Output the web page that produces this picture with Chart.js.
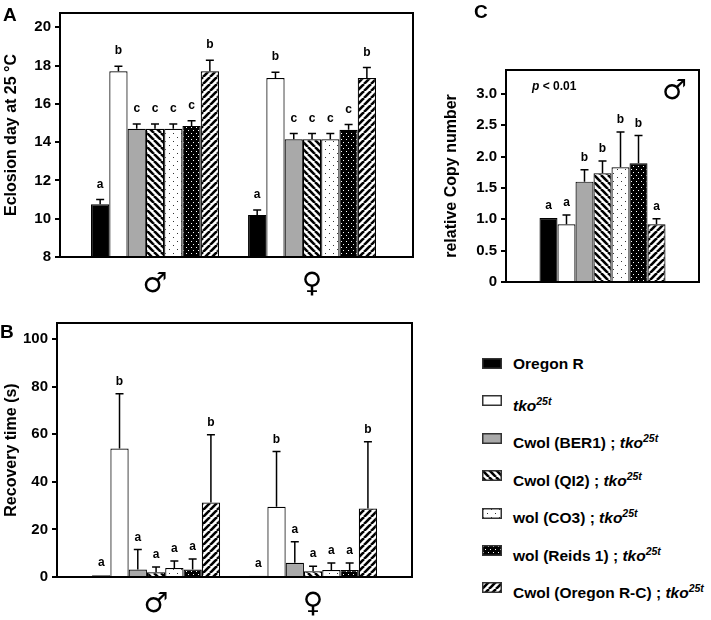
<!DOCTYPE html>
<html>
<head>
<meta charset="utf-8">
<script src="https://cdn.jsdelivr.net/npm/chart.js@4.4.0/dist/chart.umd.min.js"></script>
<style>
  body { margin: 0; background: #fff; font-family: "Liberation Sans", Arial, sans-serif; }
  #fig { position: relative; width: 711px; height: 620px; overflow: hidden; }
  #fig canvas { position: absolute; }
  .panel { position: absolute; font-weight: bold; font-size: 19px; line-height: 1; }
  .leg { position: absolute; left: 513px; font-weight: bold; font-size: 15.5px; line-height: 18px; white-space: nowrap; }
  .leg sup { font-size: 10.5px; }
  .sw { position: absolute; left: 482px; }
</style>
</head>
<body>
<div id="fig">
  <canvas id="chartA" width="440" height="300" style="left:0;top:0"></canvas>
  <canvas id="chartB" width="440" height="320" style="left:0;top:300px"></canvas>
  <canvas id="chartC" width="271" height="300" style="left:440px;top:0"></canvas>
  <div class="panel" style="left:3px;top:5px">A</div>
  <div class="panel" style="left:0;top:322px">B</div>
  <div class="panel" style="left:474px;top:2px">C</div>
  <div style="position:absolute;left:532px;top:80px;font-weight:bold;font-size:12px;line-height:1"><i>p</i> &lt; 0.01</div>
  <div style="position:absolute;left:662px;top:76px;font-family:'DejaVu Sans';font-size:28px;line-height:1">♂</div>
</div>
<script>
// ======= DADOS =======
const strains = [
  "Oregon R",
  "tko25t",
  "Cwol (BER1) ; tko25t",
  "Cwol (QI2) ; tko25t",
  "wol (CO3) ; tko25t",
  "wol (Reids 1) ; tko25t",
  "Cwol (Oregon R-C) ; tko25t",
];
const fills = ["black", "white", "grey", "back", "dots", "dark", "fwd"];
const sexes = ["♂", "♀"];
const groupX = [0, 1];

// A - eclosion day
const eclosionMale = [10.75, 17.7, 14.7, 14.7, 14.7, 14.85, 17.7];
const eclosionMaleErr = [0.25, 0.27, 0.25, 0.25, 0.25, 0.27, 0.58];
const eclosionFemale = [10.2, 17.35, 14.15, 14.15, 14.15, 14.65, 17.35];
const eclosionFemaleErr = [0.25, 0.3, 0.3, 0.3, 0.3, 0.27, 0.55];
const lettersA = ["a", "b", "c", "c", "c", "c", "b"];
const ticksA = [8, 10, 12, 14, 16, 18, 20];

// B - recovery time
const recoveryMale = [0.7, 54, 3.1, 2.0, 3.8, 3.1, 31.3];
const recoveryMaleErr = [0, 23, 8.4, 2.2, 2.9, 4.5, 28.5];
const recoveryFemale = [0.5, 29.5, 6.0, 2.4, 2.9, 2.9, 28.8];
const recoveryFemaleErr = [0, 23.2, 8.8, 2.1, 3.0, 3.0, 28];
const lettersB = ["a", "b", "a", "a", "a", "a", "b"];
const ticksB = [0, 20, 40, 60, 80, 100];

// C - relative copy number (males)
const copyMale = [1.02, 0.92, 1.6, 1.735, 1.83, 1.895, 0.92];
const copyMaleErr = [0, 0.15, 0.19, 0.195, 0.56, 0.44, 0.09];
const lettersC = ["a", "a", "b", "b", "b", "b", "a"];
const ticksC = [0, 0.5, 1.0, 1.5, 2.0, 2.5, 3.0];

Chart.defaults.font.family = '"Liberation Sans", Arial, sans-serif';
Chart.defaults.color = "#000";

// ======= PADROES =======
function makeFill(kind) {
  if (kind === "black") return "#000";
  if (kind === "white") return "#fff";
  if (kind === "grey") return "#a9a9a9";
  const c = document.createElement("canvas");
  const g = c.getContext("2d");
  if (kind === "back" || kind === "fwd") {
    const s = 7;
    c.width = c.height = s;
    g.fillStyle = "#fff";
    g.fillRect(0, 0, s, s);
    g.strokeStyle = "#000";
    g.lineWidth = 2.6;
    for (let k = -1; k <= 1; k++) {
      g.beginPath();
      if (kind === "back") { g.moveTo(k * s, 0); g.lineTo(k * s + s, s); }
      else { g.moveTo(k * s, s); g.lineTo(k * s + s, 0); }
      g.stroke();
    }
  } else if (kind === "dots") {
    c.width = 8; c.height = 8;
    g.fillStyle = "#fff";
    g.fillRect(0, 0, 8, 8);
    g.fillStyle = "#333";
    g.fillRect(1, 1, 1, 1);
    g.fillRect(5, 5, 1, 1);
  } else if (kind === "dark") {
    c.width = 5; c.height = 6;
    g.fillStyle = "#000";
    g.fillRect(0, 0, 5, 6);
    g.fillStyle = "#fff";
    g.fillRect(1, 1, 1, 1);
    g.fillRect(3, 4, 1, 1);
  }
  return g.createPattern(c, "repeat");
}
const patterns = fills.map(makeFill);

// ======= PLUGINS =======
const errorBars = {
  id: "errorBars",
  afterDatasetsDraw(chart, args, opts) {
    const ctx = chart.ctx;
    const y = chart.scales.y;
    ctx.save();
    ctx.font = 'bold 12px "Liberation Sans", Arial, sans-serif';
    ctx.textAlign = "center";
    ctx.textBaseline = "alphabetic";
    ctx.fillStyle = "#000";
    chart.data.datasets.forEach((ds, i) => {
      chart.getDatasetMeta(i).data.forEach((bar, j) => {
        const v = ds.values[j];
        const e = ds.errors[j];
        const top = y.getPixelForValue(v + e);
        if (e > 0) {
          ctx.strokeStyle = "#000";
          ctx.lineWidth = 1.5;
          ctx.beginPath();
          ctx.moveTo(bar.x, y.getPixelForValue(v));
          ctx.lineTo(bar.x, top);
          ctx.moveTo(bar.x - 4, top);
          ctx.lineTo(bar.x + 4, top);
          ctx.stroke();
        }
        ctx.fillText(ds.letters[j], bar.x, top - opts.gap);
      });
    });
    ctx.restore();
  },
};

const frame = {
  id: "frame",
  afterDraw(chart) {
    const { ctx, chartArea: a } = chart;
    ctx.save();
    ctx.strokeStyle = "#000";
    ctx.lineWidth = 2;
    ctx.strokeRect(a.left, a.top, a.right - a.left, a.bottom - a.top);
    ctx.restore();
  },
};

function yAxis(min, max, ticks, title, width, fmt) {
  return {
    min: min,
    max: max,
    afterBuildTicks: (s) => { s.ticks = ticks.map((v) => ({ value: v })); },
    afterFit: (s) => { s.width = width; },
    ticks: {
      font: { size: 15, weight: "bold" },
      color: "#000",
      padding: 4,
      callback: fmt || ((v) => v),
    },
    grid: { drawOnChartArea: false, color: "#000", lineWidth: 2, tickLength: 5 },
    border: { color: "#000", width: 2 },
    title: {
      display: true,
      text: title,
      font: { size: 16, weight: "bold" },
      color: "#000",
      padding: { top: 2, bottom: 0 },
    },
  };
}

function sexChart(id, male, maleErr, female, femaleErr, letters, yOpts, xRange, pad, gap) {
  const datasets = strains.map((s, i) => ({
    label: s,
    data: [{ x: groupX[0], y: male[i] }, { x: groupX[1], y: female[i] }],
    values: [male[i], female[i]],
    errors: [maleErr[i], femaleErr[i]],
    letters: [letters[i], letters[i]],
    backgroundColor: patterns[i],
    borderColor: "#000",
    borderWidth: 1.2,
    barPercentage: 1,
    categoryPercentage: 0.815,
  }));
  return new Chart(document.getElementById(id), {
    type: "bar",
    data: { datasets },
    options: {
      responsive: false,
      devicePixelRatio: 1,
      animation: false,
      layout: { padding: pad },
      plugins: { legend: { display: false }, tooltip: { enabled: false }, errorBars: { gap } },
      scales: {
        x: {
          type: "linear",
          offset: false,
          min: xRange[0],
          max: xRange[1],
          afterBuildTicks: (s) => { s.ticks = groupX.map((v) => ({ value: v })); },
          afterFit: (s) => { s.height = xRange[2]; },
          ticks: {
            callback: (v) => sexes[groupX.indexOf(v)] || "",
            font: { family: "DejaVu Sans", size: 28 },
            color: "#000",
            padding: 3,
            autoSkip: false,
            maxRotation: 0,
          },
          grid: { display: false },
          border: { display: true, color: "#000", width: 2 },
        },
        y: yOpts,
      },
    },
    plugins: [errorBars, frame],
  });
}

// ======= GRAFICOS =======
sexChart("chartA", eclosionMale, eclosionMaleErr, eclosionFemale, eclosionFemaleErr, lettersA,
  yAxis(8, 20.75, ticksA, "Eclosion day at 25 °C", 60),
  [-0.605, 1.643, 43], { top: 3, right: 27, left: 0, bottom: 0 }, 12);

sexChart("chartB", recoveryMale, recoveryMaleErr, recoveryFemale, recoveryFemaleErr, lettersB,
  yAxis(0, 106.7, ticksB, "Recovery time (s)", 57),
  [-0.631, 1.63, 43], { top: 23, right: 28, left: 0, bottom: 0 }, 9);

new Chart(document.getElementById("chartC"), {
  type: "bar",
  data: {
    labels: ["♂"],
    datasets: strains.map((s, i) => ({
      label: s,
      data: [copyMale[i]],
      values: [copyMale[i]],
      errors: [copyMaleErr[i]],
      letters: [lettersC[i]],
      backgroundColor: patterns[i],
      borderColor: "#000",
      borderWidth: 1.2,
      barPercentage: 1,
      categoryPercentage: 0.653,
    })),
  },
  options: {
    responsive: false,
    devicePixelRatio: 1,
    animation: false,
    layout: { padding: { top: 70, right: 12, left: 0, bottom: 0 } },
    plugins: { legend: { display: false }, tooltip: { enabled: false }, errorBars: { gap: 9 } },
    scales: {
      x: {
        ticks: { display: false },
        grid: { display: false },
        border: { display: true, color: "#000", width: 2 },
        afterFit: (s) => { s.height = 18; },
      },
      y: yAxis(0, 3.38, ticksC, "relative Copy number", 66, (v) => (v === 0 ? "0" : v.toFixed(1))),
    },
  },
  plugins: [errorBars, frame],
});

// ======= LEGENDA =======
const fig = document.getElementById("fig");
const legendTop = 363.5;
const legendStep = 37.4;
strains.forEach((name, i) => {
  const cy = legendTop + i * legendStep;
  const sw = document.createElement("canvas");
  sw.className = "sw";
  sw.width = 20;
  sw.height = 11;
  sw.style.left = "482px";
  sw.style.top = (cy - 5.5) + "px";
  const g = sw.getContext("2d");
  g.fillStyle = patterns[i];
  g.fillRect(0, 0, 20, 11);
  g.strokeStyle = "#333";
  g.lineWidth = 1.5;
  g.strokeRect(0.75, 0.75, 18.5, 9.5);
  fig.appendChild(sw);

  const row = document.createElement("div");
  row.className = "leg";
  row.style.top = (cy - 9) + "px";
  row.innerHTML = name.replace("tko25t", "<i>tko<sup>25t</sup></i>");
  fig.appendChild(row);
});
</script>
</body>
</html>
